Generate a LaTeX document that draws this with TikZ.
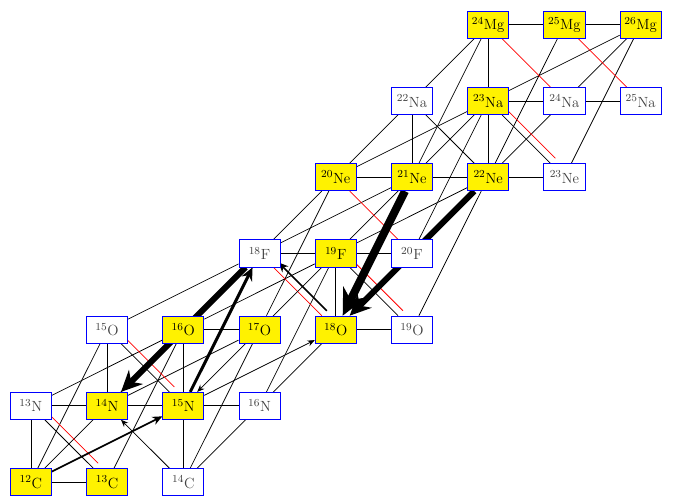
\documentclass[tikz,border=0pt]{standalone}
\usepackage{amsmath}
\usepackage{amssymb}
\usetikzlibrary{positioning,backgrounds,arrows.meta}

\tikzset{
  nuc/.style={draw=blue, line width=0.6pt, minimum width=1.08cm, minimum height=0.71cm,
    inner sep=1pt, font=\fontsize{11}{13}\selectfont},
  stab/.style={nuc, fill=yellow},
  unst/.style={nuc, fill=white, text=black!75},
  reac/.style={line width=0.55pt},
  decay/.style={red, line width=0.55pt},
  shiftup/.style={transform canvas={shift={(3.7pt,3.7pt)}}},
  flow/.style={line width=#1, -{Stealth[length=4pt 2.6, width=3pt 2.6]}},
}

\begin{document}
\begin{tikzpicture}[node distance=2cm]
  \useasboundingbox (-0.81,-0.34) rectangle (16.85,12.65);
  % carbon
  \node[stab] (c12) {$^{12}$C};
  \node[stab, right of=c12] (c13) {$^{13}$C};
  \node[unst, right of=c13] (c14) {$^{14}$C};
  % nitrogen
  \node[unst, above of=c12] (n13) {$^{13}$N};
  \node[stab, right of=n13] (n14) {$^{14}$N};
  \node[stab, right of=n14] (n15) {$^{15}$N};
  \node[unst, right of=n15] (n16) {$^{16}$N};
  % oxygen
  \node[unst, above of=n14] (o15) {$^{15}$O};
  \node[stab, right of=o15] (o16) {$^{16}$O};
  \node[stab, right of=o16] (o17) {$^{17}$O};
  \node[stab, right of=o17] (o18) {$^{18}$O};
  \node[unst, right of=o18] (o19) {$^{19}$O};
  % fluorine
  \node[unst, above of=o17] (f18) {$^{18}$F};
  \node[stab, right of=f18] (f19) {$^{19}$F};
  \node[unst, right of=f19] (f20) {$^{20}$F};
  % neon
  \node[stab, above of=f19] (ne20) {$^{20}$Ne};
  \node[stab, right of=ne20] (ne21) {$^{21}$Ne};
  \node[stab, right of=ne21] (ne22) {$^{22}$Ne};
  \node[unst, right of=ne22] (ne23) {$^{23}$Ne};
  % sodium
  \node[unst, above of=ne21] (na22) {$^{22}$Na};
  \node[stab, right of=na22] (na23) {$^{23}$Na};
  \node[unst, right of=na23] (na24) {$^{24}$Na};
  \node[unst, right of=na24] (na25) {$^{25}$Na};
  % magnesium
  \node[stab, above of=na23] (mg24) {$^{24}$Mg};
  \node[stab, right of=mg24] (mg25) {$^{25}$Mg};
  \node[stab, right of=mg25] (mg26) {$^{26}$Mg};

  \begin{scope}[on background layer]
    % (n,g)
    \draw[reac] (c12) -- (c13) (n13) -- (n14) (n14) -- (n15) (n15) -- (n16)
      (o16) -- (o17) (o18) -- (o19) (f18) -- (f19) (f19) -- (f20)
      (ne20) -- (ne21) (ne21) -- (ne22) (ne22) -- (ne23)
      (na23) -- (na24) (na24) -- (na25) (mg24) -- (mg25) (mg25) -- (mg26);
    % (p,g)
    \draw[reac] (c12) -- (n13) (c14) -- (n15) (n14) -- (o15) (n15) -- (o16)
      (o18) -- (f19) (ne21) -- (na22) (ne22) -- (na23) (na23) -- (mg24);
    % (a,n)
    \draw[reac] (c12) -- (o15) (c13) -- (o16) (c14) -- (o17) (n16) -- (f19)
      (o17) -- (ne20) (o19) -- (ne22) (f20) -- (na23) (ne21) -- (mg24)
      (ne22) -- (mg25) (ne23) -- (mg26);
    % (a,p)
    \draw[reac] (n13) -- (o16) (n14) -- (o17) (o15) -- (f18) (o16) -- (f19)
      (f19) -- (ne22) (f18) -- (ne21) (ne20) -- (na23) (na23) -- (mg26);
    % (a,g)
    \draw[reac] (c12) -- (o16) (c14) -- (o18) (o16) -- (ne20) (f19) -- (na23)
      (ne20) -- (mg24) (ne22) -- (mg26);
    % (p,n) and (n,p)
    \draw[reac] (n13) -- (c13) (o15) -- (n15) (f19) -- (o19)
      (na22) -- (ne22) (na23) -- (ne23);
    % beta decays
    \draw[decay, shiftup] (n13) -- (c13) (o15) -- (n15) (f19) -- (o19) (na23) -- (ne23);
    \draw[decay] (f18) -- (o18) (ne20) -- (f20) (mg24) -- (na24) (mg25) -- (na25);
    % main flows
    \draw[flow=4.5pt] (f18) -- (n14);
    \draw[flow=6pt] (ne21) -- (o18);
    \draw[flow=4.5pt] (ne22) -- (o18);
    \draw[flow=2.2pt] (n15) -- (f18);
    \draw[flow=1.3pt] (c12) -- (n15);
    \draw[flow=1.3pt, shiftup] (o18) -- (f18);
    \draw[flow=0.55pt] (n15) -- (o18);
    \draw[flow=0.55pt] (f19) -- (n15);
    \draw[flow=0.55pt] (c14) -- (n14);
  \end{scope}
\end{tikzpicture}
\end{document}
